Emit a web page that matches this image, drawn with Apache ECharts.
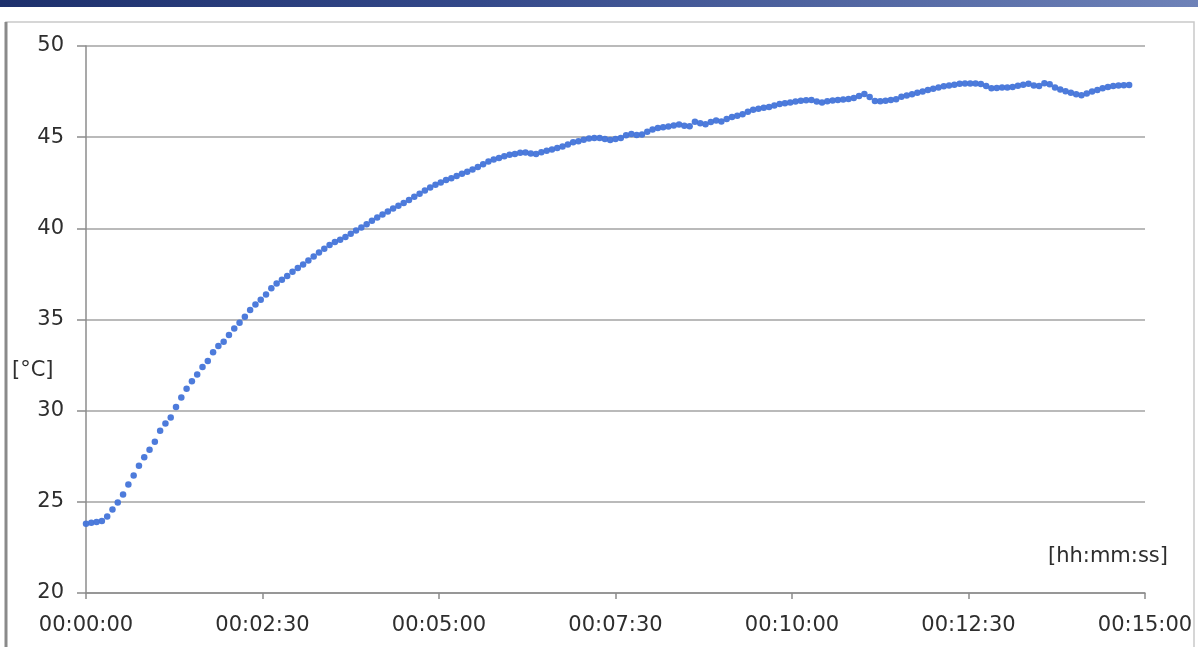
<!DOCTYPE html>
<html>
<head>
<meta charset="utf-8">
<script src="https://cdn.jsdelivr.net/npm/echarts@6/dist/echarts.min.js"></script>
<style>
  html, body { margin: 0; padding: 0; background: #ffffff; }
  #chart { width: 1198px; height: 647px; }
</style>
</head>
<body>
<div id="chart"></div>
<script>
// Temperature logged every 4.5 s during heating
const sampleStep = 4.5; // seconds
const temperatures = [
  23.80, 23.85, 23.90, 23.95, 24.20, 24.58, 24.97, 25.40, 25.95, 26.45,
  26.98, 27.45, 27.85, 28.30, 28.90, 29.30, 29.62, 30.20, 30.72, 31.20,
  31.62, 31.98, 32.40, 32.73, 33.20, 33.55, 33.78, 34.15, 34.50, 34.82,
  35.15, 35.52, 35.82, 36.08, 36.37, 36.72, 36.98, 37.18, 37.38, 37.62,
  37.83, 38.02, 38.23, 38.45, 38.68, 38.88, 39.08, 39.25, 39.37, 39.52,
  39.70, 39.88, 40.04, 40.23, 40.42, 40.60, 40.76, 40.93, 41.09, 41.24,
  41.39, 41.55, 41.73, 41.90, 42.08, 42.24, 42.39, 42.52, 42.65, 42.75,
  42.87, 42.99, 43.10, 43.23, 43.37, 43.51, 43.66, 43.77, 43.86, 43.95,
  44.03, 44.08, 44.14, 44.16, 44.10, 44.07, 44.17, 44.26, 44.32, 44.40,
  44.49, 44.60, 44.72, 44.78, 44.86, 44.93, 44.96, 44.95, 44.90, 44.85,
  44.90, 44.95, 45.10, 45.18, 45.12, 45.15, 45.30, 45.42, 45.50, 45.55,
  45.59, 45.64, 45.69, 45.62, 45.60, 45.84, 45.77, 45.71, 45.83, 45.91,
  45.86, 46.00, 46.10, 46.17, 46.26, 46.40, 46.50, 46.56, 46.61, 46.66,
  46.74, 46.82, 46.86, 46.90, 46.95, 47.00, 47.03, 47.04, 46.95, 46.90,
  46.97, 47.01, 47.04, 47.07, 47.10, 47.15, 47.26, 47.37, 47.20, 46.98,
  46.97, 47.00, 47.04, 47.08, 47.22, 47.29, 47.36, 47.44, 47.51, 47.58,
  47.65, 47.72, 47.79, 47.84, 47.88, 47.93, 47.95, 47.95, 47.94, 47.91,
  47.80, 47.68, 47.70, 47.72, 47.73, 47.75, 47.82, 47.88, 47.93, 47.83,
  47.80, 47.96, 47.90, 47.72, 47.62, 47.52, 47.44, 47.36, 47.30, 47.40,
  47.50, 47.58, 47.68, 47.75, 47.80, 47.83, 47.85, 47.86
];
const timeTickLabels = ['00:00:00', '00:02:30', '00:05:00', '00:07:30', '00:10:00', '00:12:30', '00:15:00'];
const timeTickStep = 150; // seconds
const tempTicks = [20, 25, 30, 35, 40, 45, 50];
const yAxisTitle = '[°C]';
const xAxisTitle = '[hh:mm:ss]';

const points = temperatures.map((v, i) => [i * sampleStep, v]);

const textFont = 'DejaVu Sans';
const textColor = '#2e2e2e';

const chart = echarts.init(document.getElementById('chart'), null, { renderer: 'canvas' });
chart.setOption({
  animation: false,
  backgroundColor: '#ffffff',
  grid: { left: 86, right: 53, top: 46, bottom: 54, containLabel: false },
  xAxis: {
    type: 'value',
    min: 0,
    max: timeTickStep * (timeTickLabels.length - 1),
    interval: timeTickStep,
    axisLine: { show: true, lineStyle: { color: '#8c8c8c', width: 1.5 } },
    axisTick: { show: true, length: 6, lineStyle: { color: '#8c8c8c', width: 1.5 } },
    splitLine: { show: false },
    axisLabel: {
      margin: 22,
      fontFamily: textFont,
      fontSize: 21,
      color: textColor,
      formatter: (v) => timeTickLabels[Math.round(v / timeTickStep)]
    }
  },
  yAxis: {
    type: 'value',
    min: tempTicks[0],
    max: tempTicks[tempTicks.length - 1],
    interval: 5,
    axisLine: { show: true, lineStyle: { color: '#8c8c8c', width: 1.5 } },
    axisTick: { show: true, length: 9, lineStyle: { color: '#8c8c8c', width: 1.5 } },
    splitLine: { show: true, lineStyle: { color: '#a3a3a3', width: 1.5 } },
    axisLabel: {
      margin: 22,
      fontFamily: textFont,
      fontSize: 21,
      color: textColor
    }
  },
  graphic: [
    {
      type: 'rect',
      shape: { x: 0, y: 0, width: 1198, height: 7 },
      style: {
        fill: new echarts.graphic.LinearGradient(0, 0, 1, 0, [
          { offset: 0, color: '#1d306c' },
          { offset: 0.4, color: '#34498a' },
          { offset: 1, color: '#6e82b8' }
        ])
      },
      silent: true
    },
    {
      type: 'rect',
      shape: { x: 6, y: 22, width: 1188, height: 640 },
      style: { fill: 'none', stroke: '#c9c9c9', lineWidth: 1.5 },
      silent: true,
      z: -1
    },
    {
      type: 'line',
      shape: { x1: 6, y1: 22, x2: 6, y2: 647 },
      style: { stroke: '#8a8a8a', lineWidth: 3 },
      silent: true
    },
    {
      type: 'text',
      left: 12,
      top: 360,
      style: { text: yAxisTitle, font: '21px "DejaVu Sans"', fill: textColor }
    },
    {
      type: 'text',
      left: 1048,
      top: 546,
      style: { text: xAxisTitle, font: '21px "DejaVu Sans"', fill: textColor }
    }
  ],
  series: [
    {
      type: 'scatter',
      data: points,
      symbol: 'circle',
      symbolSize: 6.5,
      itemStyle: { color: '#4374d9', opacity: 0.95 }
    }
  ]
});
</script>
</body>
</html>
